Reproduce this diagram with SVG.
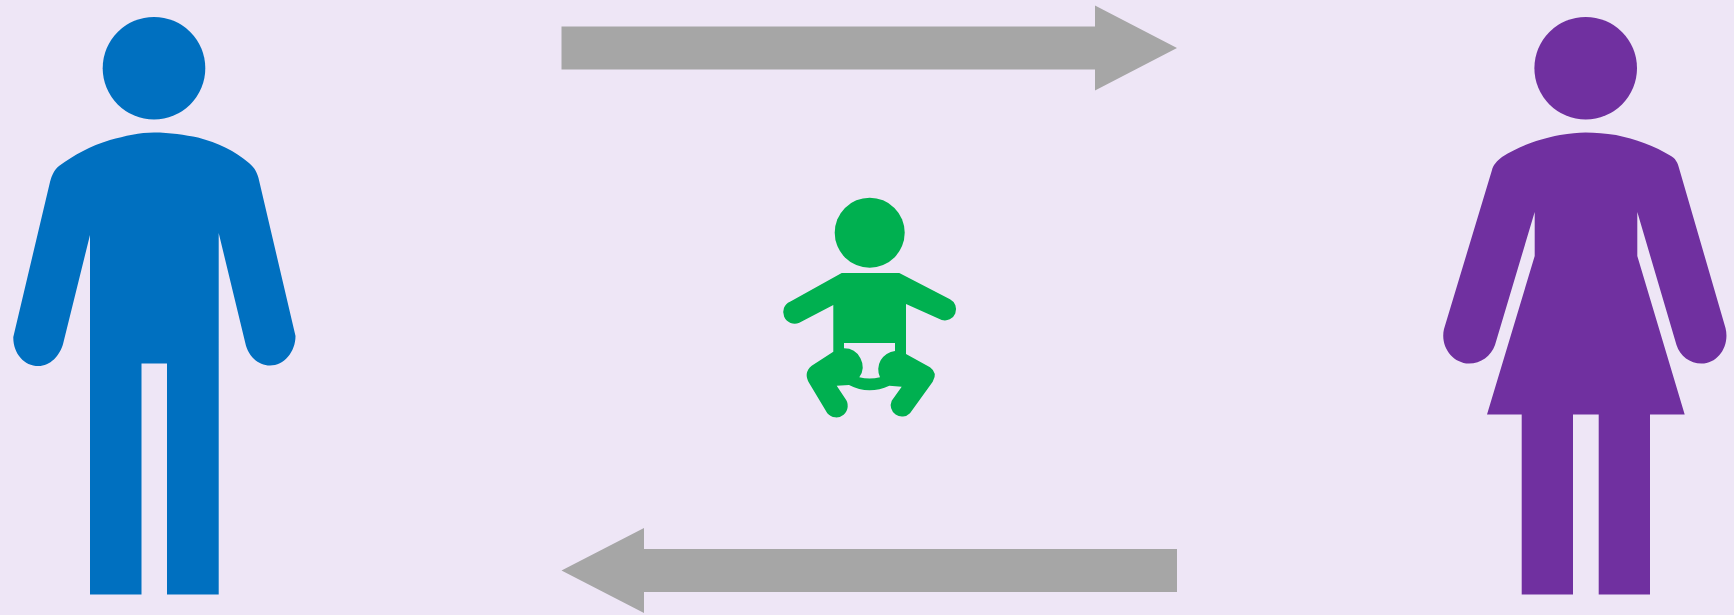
<svg xmlns="http://www.w3.org/2000/svg" width="1734" height="615" viewBox="0 0 1734 615">
<style>
.arrow{fill:#a6a6a6}
.man{fill:#0070c0}
.woman{fill:#7030a0}
.baby{fill:#00b050}
</style>
<rect width="1734" height="615" fill="#eee6f6"/>
<g id="connectors">
<path class="arrow" d="M561.500 26.500H1095V5.500L1177 48 1095 90.500V69.500H561.500Z"/>
<path class="arrow" d="M1177 549H644V528L561.500 570.500 644 613V592H1177Z"/>
</g>
<g id="man">
<circle class="man" cx="154" cy="68.200" r="51.300"/>
<path class="man" d="M154 132.500C170 132.500 185 135 198 137.500 218 143 235 151 249 163 254 167 257 172 258.500 178L295.500 336C295.500 352 284 365.500 270 365.500 258 365.500 248 356 245.300 343L218.700 233V594.500H167V363.500H141.500V594.500H90V235L63.300 343C60 356 50 366 38.500 366 24 366 13 353 13.300 337L50 182C52 175 54 170 59 166 74 155 90 146 110 140 125 136 140 132.500 154 132.500Z"/>
</g>
<g id="woman">
<circle class="woman" cx="1585.700" cy="68.200" r="51.300"/>
<path class="woman" d="M1585.500 132.500C1596 132.500 1605 133.500 1616 135 1635 139 1655 146 1671 156 1675 158 1678 163 1679 168L1725.500 328C1730 346 1718 363.500 1701.500 363.500 1690 363.500 1680 356 1676.500 345L1637.300 212V256L1684.700 414.500H1650V594.500H1598.700V414.500H1573V594.500H1521.700V414.500H1487L1534.700 256V212L1495 345C1491 356 1481 363.500 1469 363.500 1452 363 1440 346 1444 329L1492 170C1493 165 1497 161 1502 157 1518 147 1535 140 1560 135 1570 133.500 1578 132.500 1585.500 132.500Z"/>
</g>
<g id="baby">
<circle class="baby" cx="869.700" cy="232.700" r="35"/>
<path class="baby" fill-rule="evenodd" d="M841.700 273H899.300L950 299.300A11.200 11.200 0 0 1 941.700 320L906 304V354L930 367.300Q938 373 932.700 381.700L910 413.300A11.300 11.300 0 0 1 891.700 400.700L901.700 386.700 889.300 385.700C876 392 862 392 849 385L836.700 385.700 845 398.300A11.300 11.300 0 0 1 827.300 413.300L809.300 383.300Q803 373 811.700 365.700L833.300 351.700V305L799.300 322.700A11.200 11.200 0 0 1 790 301.700ZM844 343V348.300A18.500 18.500 0 0 1 859.300 377.300C866 379 873 379 880 377.300A18.500 18.500 0 0 1 895 351V343Z"/>
</g>
</svg>
